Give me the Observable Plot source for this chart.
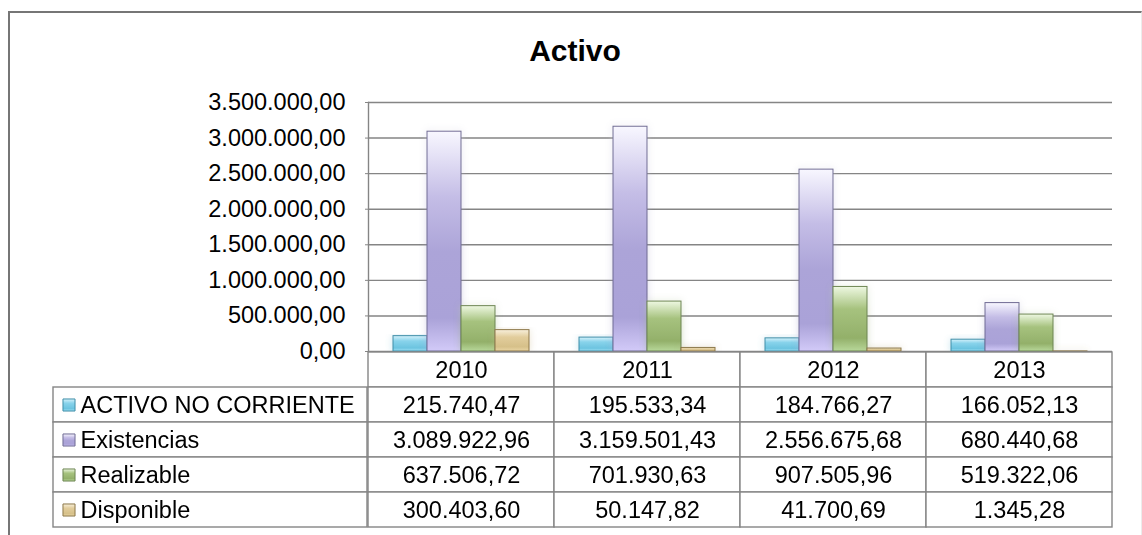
<!DOCTYPE html>
<html>
<head>
<meta charset="utf-8">
<script src="https://cdn.jsdelivr.net/npm/d3@7"></script>
<script src="https://cdn.jsdelivr.net/npm/@observablehq/plot@0.6"></script>
<style>
  body { margin: 0; background: #fff; font-family: "Liberation Sans", Arial, sans-serif; }
  #wrap { position: relative; width: 1142px; height: 535px; overflow: hidden; background: #fff; }
  #frame { position: absolute; left: 8px; top: 11px; width: 1131px; height: 600px;
           border-left: 2px solid #767676; border-top: 2px solid #767676; border-right: 1px solid #ececec; }
  #title { position: absolute; left: 8px; width: 1134px; top: 36px; text-align: center;
           font-weight: bold; font-size: 30px; line-height: 30px; color: #000; }
  #bars { position: absolute; left: 0; top: 0; }
  #table { position: absolute; left: 0; top: 350px; }
</style>
</head>
<body>
<svg width="0" height="0" style="position:absolute">
  <defs>
    <linearGradient id="g0" x1="0" y1="0" x2="0" y2="1">
      <stop offset="0" stop-color="#d6f2fb"/><stop offset="0.35" stop-color="#88d3eb"/>
      <stop offset="0.8" stop-color="#6cc4e0"/><stop offset="1" stop-color="#9fe0f4"/>
    </linearGradient>
    <linearGradient id="g1" x1="0" y1="0" x2="0" y2="1">
      <stop offset="0" stop-color="#f8f7ff"/><stop offset="0.3" stop-color="#c4bde6"/>
      <stop offset="0.55" stop-color="#aca4d8"/><stop offset="0.85" stop-color="#aaa2d8"/>
      <stop offset="1" stop-color="#d2caf8"/>
    </linearGradient>
    <linearGradient id="g2" x1="0" y1="0" x2="0" y2="1">
      <stop offset="0" stop-color="#eef8e2"/><stop offset="0.35" stop-color="#a6c27e"/>
      <stop offset="0.8" stop-color="#93b06a"/><stop offset="1" stop-color="#b8d89a"/>
    </linearGradient>
    <linearGradient id="g3" x1="0" y1="0" x2="0" y2="1">
      <stop offset="0" stop-color="#f8f0dc"/><stop offset="0.35" stop-color="#e2cd9c"/>
      <stop offset="0.8" stop-color="#d6c089"/><stop offset="1" stop-color="#ead6a4"/>
    </linearGradient>
    <filter id="glow" x="-30%" y="-10%" width="160%" height="120%">
      <feGaussianBlur in="SourceGraphic" stdDeviation="3.5" result="b"/>
      <feComponentTransfer in="b" result="b2"><feFuncA type="linear" slope="0.4"/></feComponentTransfer>
      <feMerge><feMergeNode in="b2"/><feMergeNode in="SourceGraphic"/></feMerge>
    </filter>
  </defs>
</svg>
<div id="wrap">
  <div id="frame"></div>
  <div id="title">Activo</div>
  <div id="bars"></div>
  <div id="table"></div>
</div>
<script>
// ---- data ----
const years = ["2010", "2011", "2012", "2013"];
const series = ["ACTIVO NO CORRIENTE", "Existencias", "Realizable", "Disponible"];
const activoNoCorriente = [215740.47, 195533.34, 184766.27, 166052.13];
const existencias = [3089922.96, 3159501.43, 2556675.68, 680440.68];
const realizable = [637506.72, 701930.63, 907505.96, 519322.06];
const disponible = [300403.60, 50147.82, 41700.69, 1345.28];
const yTicks = [0, 500000, 1000000, 1500000, 2000000, 2500000, 3000000, 3500000];

const seriesValues = [activoNoCorriente, existencias, realizable, disponible];
const fills = ["url(#g0)", "url(#g1)", "url(#g2)", "url(#g3)"];
const strokes = ["#3f8ea8", "#6f6a93", "#6d8552", "#8c7748"];

const rows = [];
series.forEach((s, i) => years.forEach((y, j) => rows.push({series: s, year: y, value: seriesValues[i][j], si: i})));

const locale = d3.formatLocale({decimal: ",", thousands: ".", grouping: [3], currency: ["", ""]});
const fmt = locale.format(",.2f");

const FS = 23.5;
const font = {fontFamily: "'Liberation Sans', Arial, sans-serif", fontSize: FS + "px", color: "#000", background: "transparent", overflow: "visible"};

// ---- bar chart ----
const barMarks = [
  Plot.gridY(yTicks, {stroke: "#858585", strokeOpacity: 1, strokeWidth: 1.4}),
  Plot.frame({anchor: "left", facetAnchor: "left", stroke: "#858585", strokeWidth: 1.4}),
  Plot.axisY(yTicks, {tickFormat: fmt, tickSize: 3, tickPadding: 20, fontSize: FS, stroke: "#858585", fill: "#000", label: null})
];
series.forEach((s, i) => {
  barMarks.push(Plot.barY(rows.filter(d => d.si === i), {
    fx: "year", x: "series", y: "value",
    fill: fills[i], stroke: strokes[i], strokeWidth: 1
  }));
});

const bars = Plot.plot({
  width: 1142, height: 352,
  marginTop: 102, marginBottom: 1, marginLeft: 367, marginRight: 29,
  style: font,
  fx: {domain: years, padding: 0, axis: null, label: null},
  x: {domain: series, paddingInner: 0, paddingOuter: 0.72, axis: null, label: null},
  y: {domain: [0, 3500000], axis: null, label: null},
  marks: barMarks
});
bars.querySelectorAll('g[aria-label="bar"]').forEach(g => g.setAttribute("filter", "url(#glow)"));
document.getElementById("bars").appendChild(bars);

// ---- data table ----
const header = "header";
const tableRows = [header, ...series];
const headerCells = years.map(y => ({year: y, row: header, text: y}));
const valueCells = rows.map(d => ({year: d.year, row: d.series, text: fmt(d.value)}));
const cellStyle = {fill: "white", stroke: "#858585", strokeWidth: 1.4};

const tableMarks = [
  Plot.cell(series, {y: d => d, insetLeft: -314, insetRight: 746, ...cellStyle}),
  Plot.cell([...headerCells, ...valueCells], {x: "year", y: "row", ...cellStyle}),
  Plot.text([...headerCells, ...valueCells], {x: "year", y: "row", text: "text", fontSize: FS, fill: "#000"}),
  Plot.text(series, {y: d => d, text: d => d, frameAnchor: "left", textAnchor: "start", dx: -287, fontSize: FS, fill: "#000"})
];
series.forEach((s, i) => {
  tableMarks.push(Plot.dot([s], {y: d => d, frameAnchor: "left", dx: -298.5, symbol: "square", r: 6.8,
    fill: fills[i], stroke: strokes[i], strokeWidth: 1}));
});

const table = Plot.plot({
  width: 1142, height: 178,
  marginTop: 1, marginBottom: 1, marginLeft: 367, marginRight: 29,
  style: font,
  x: {domain: years, padding: 0, axis: null, label: null},
  y: {domain: tableRows, padding: 0, axis: null, label: null},
  marks: tableMarks
});
document.getElementById("table").appendChild(table);
</script>
</body>
</html>
